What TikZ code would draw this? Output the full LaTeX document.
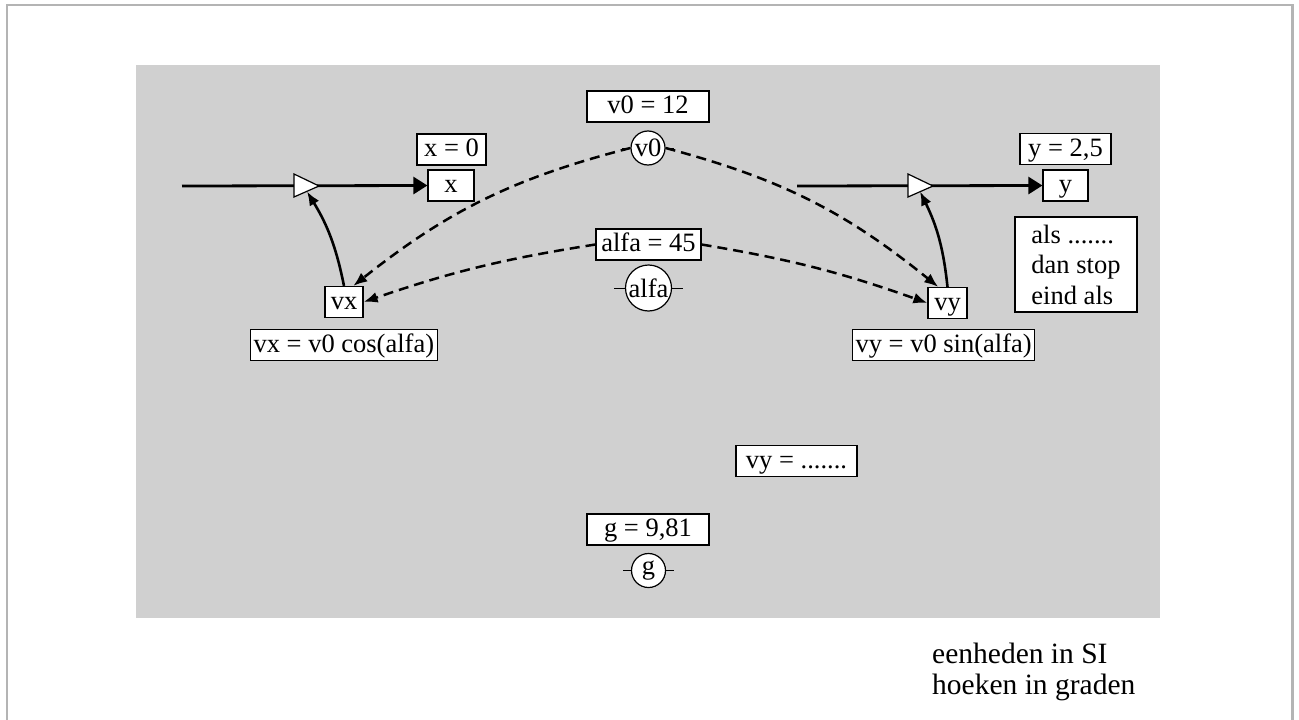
\documentclass[tikz,border=0pt]{standalone}
\usepackage{fontspec}
\setmainfont{Liberation Serif}
\usetikzlibrary{arrows.meta}
\definecolor{panelgray}{RGB}{208,208,208}
\definecolor{framegray}{RGB}{180,180,180}
\tikzset{
  lbl/.style={draw=black, line width=1.2pt, fill=white, font=\fontsize{26.5}{31}\selectfont,
    inner xsep=2pt, inner ysep=3pt, text height=19.5pt, text depth=5.5pt, minimum height=31pt},
  circ/.style={draw=black, line width=1.2pt, fill=white, circle, inner sep=0pt,
    font=\fontsize{26.5}{31}\selectfont},
  stub/.style={line width=1pt},
  flow/.style={line width=2.8pt, -{Triangle[length=14pt,width=17pt]}},
  feed/.style={line width=2.6pt, -{Latex[length=14pt,width=11pt]}},
  dep/.style={line width=2.5pt, dash pattern=on 10pt off 6pt, -{Latex[length=14pt,width=11pt]}},
  tri/.style={draw=black, line width=1.2pt, fill=white},
}
\begin{document}
\begin{tikzpicture}[x=1pt,y=-1pt]
\useasboundingbox (0,0) rectangle (1299,720);
% frame and panel
\draw[framegray, line width=2.5pt] (7,730) -- (7,5) -- (1292.5,5) -- (1292.5,730);
\fill[panelgray] (136,65) rectangle (1160,618);

% constants
\node[lbl, minimum width=122pt] (v0lbl) at (648,106.5) {v0 = 12};
\node[circ, minimum size=34pt] (v0) at (648,148) {v0};
\node[lbl, minimum width=105pt] (alfalbl) at (648.5,244.5) {alfa = 45};
\node[circ, minimum size=46pt] (alfa) at (648.5,288) {alfa};
\node[lbl, minimum width=122pt] (glbl) at (648,529.5) {g = 9,81};
\node[circ, minimum size=34pt] (g) at (648.5,570.5) {g};
\draw[stub] (v0.west) -- ++(-8,0);
\draw[stub] (v0.east) -- ++(8,0);
\draw[stub] (alfa.west) -- ++(-11,0);
\draw[stub] (alfa.east) -- ++(11,0);
\draw[stub] (g.west) -- ++(-8,0);
\draw[stub] (g.east) -- ++(8,0);

% left side
\node[lbl, minimum width=69pt] (x0lbl) at (451.5,149.5) {x = 0};
\node[lbl, minimum width=46pt] (x) at (451,185.5) {x};
\node[lbl, minimum width=38pt, minimum height=30pt] (vx) at (344,302) {vx};
\node[lbl, anchor=west, inner xsep=3pt, minimum height=30pt] (vxeq) at (250,345) {vx = v0 cos(alfa)};
\coordinate (lin) at (182,186);
\coordinate (ltb) at (307,191.5);
\draw[flow] (lin) -- (x.west);
\draw[tri] (294,174) -- (319,186) -- (294,197) -- cycle;
\draw[feed] (vx.north) to[bend right=10] (ltb);

% right side
\node[lbl, minimum width=91pt] (y0lbl) at (1065.5,149) {y = 2,5};
\node[lbl, minimum width=45pt] (y) at (1065.5,185.5) {y};
\node[lbl, minimum width=39pt, minimum height=30pt] (vy) at (947.5,303) {vy};
\node[lbl, anchor=west, inner xsep=3pt, minimum height=30pt] (vyeq) at (852,345) {vy = v0 sin(alfa)};
\coordinate (rin) at (797,186);
\coordinate (rtb) at (920,191.5);
\draw[flow] (rin) -- (y.west);
\draw[tri] (908,174) -- (933,186) -- (908,197) -- cycle;
\draw[feed] (vy.north) to[bend right=10] (rtb);

\node[draw=black, line width=1.2pt, fill=white, minimum width=122pt, minimum height=95pt,
  align=left, inner sep=0pt, font=\fontsize{26.5}{30.5}\selectfont] (stop) at (1076,264.5)
  {als .......\\dan stop\\eind als};

\node[lbl, minimum width=121pt] (vydots) at (796.5,461) {vy = .......};

% dependencies
\draw[dep] (v0.west) to[bend right=12] (vx.60);
\draw[dep] (alfalbl.west) to[bend right=5] (vx.east);
\draw[dep] (v0.east) to[bend left=12] (vy.120);
\draw[dep] (alfalbl.east) to[bend left=5] (vy.west);

% note
\node[anchor=base west, align=left, inner sep=0pt, font=\fontsize{29.5}{31}\selectfont] (note) at (932,694)
  {eenheden in SI\\hoeken in graden};
\end{tikzpicture}
\end{document}
